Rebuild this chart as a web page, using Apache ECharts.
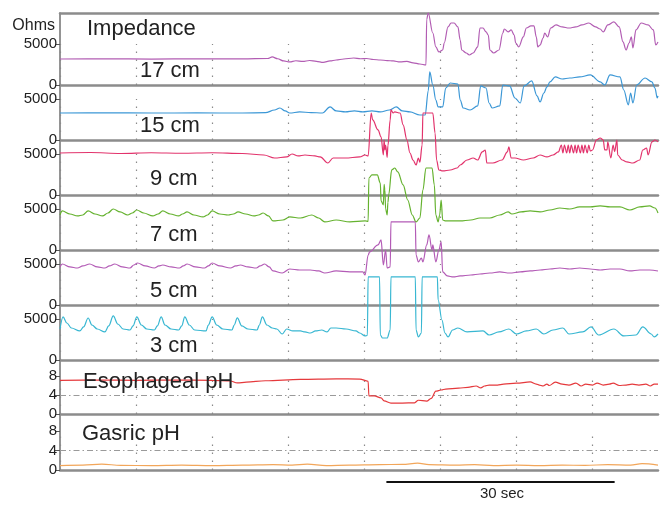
<!DOCTYPE html>
<html><head><meta charset="utf-8">
<script src="https://cdn.jsdelivr.net/npm/echarts@6/dist/echarts.min.js"></script>
<style>html,body{margin:0;padding:0;background:#fff}#c{width:672px;height:511px}</style>
</head><body><div id="c"></div>
<script>
// ---- data (time in seconds, impedance in ohms, pH units) ----
const channelLabels = ['17 cm','15 cm','9 cm','7 cm','5 cm','3 cm'];
const phLabels = ['Esophageal pH','Gasric pH'];
const impedanceTicks = [0,5000];
const phTicks = [0,4,8];
const gridTimes = [0,10,20,30,40,50,60,70];
const phThreshold = 4;
const scaleBarStart = 42.9;
const scaleBarSeconds = 30;
const scaleBarLabel = '30 sec';

const imp17 = [[0,3170],[6,3190],[12,3160],[18,3200],[24,3180],[27.3,3230],[27.9,3420],[28.6,3200],[29.4,2930],[30.2,2810],[31.0,2960],[31.9,2870],[32.8,2990],[33.7,2890],[34.6,2760],[35.5,2930],[36.3,3050],[37.3,3170],[38.6,3290],[39.5,3200],[40.3,3230],[41.2,3110],[42.1,3050],[43.0,2980],[43.8,2930],[44.7,2810],[45.6,2870],[46.4,2700],[47.3,2560],[48.1,2440],[48.2,8000],[48.4,8780],[49.0,6340],[49.4,4640],[49.8,4030],[50.3,4270],[50.5,5120],[51.0,7080],[51.4,7560],[51.8,7560],[52.3,7080],[52.6,5490],[52.8,4270],[53.4,3900],[53.8,3660],[54.3,3900],[54.9,4640],[55.2,6950],[55.6,6950],[56.0,6470],[56.3,6100],[56.5,4270],[57.0,3900],[57.7,4270],[58.2,6340],[58.4,6830],[58.9,6470],[59.3,6710],[59.7,6100],[59.9,5120],[60.3,4640],[60.9,5860],[61.3,6950],[61.9,7200],[62.3,7200],[62.6,5860],[62.8,4640],[63.1,4880],[63.5,5730],[63.7,6340],[64.1,5860],[64.5,6950],[65.2,7320],[66.0,7080],[66.9,6950],[67.8,7080],[68.6,7320],[69.5,7560],[70.4,7080],[71.0,6830],[71.4,6470],[72.0,7320],[72.8,7690],[73.5,7080],[74.0,5250],[74.4,4270],[74.8,5120],[75.1,5860],[75.3,4510],[75.7,6710],[76.4,7560],[77.3,7320],[78.0,6710],[78.3,4880],[78.6,5250]];

const imp15 = [[0,3290],[6,3320],[12,3290],[18,3300],[24,3290],[27.0,3330],[28.2,3660],[28.9,3900],[29.6,3540],[30.2,3290],[31.5,3420],[33.0,3350],[34.5,3290],[35.5,4030],[36.3,3540],[37.5,3420],[38.7,3540],[39.8,3420],[41.0,3540],[42.1,3420],[43.3,3660],[44.2,4030],[45.0,3540],[46.0,3420],[47.3,3050],[48.0,3050],[48.4,6000],[48.6,8300],[49.0,6710],[49.4,4880],[49.7,4030],[50.3,4030],[50.7,6340],[51.3,6950],[52.3,6830],[52.6,4880],[53.0,3900],[53.9,3660],[54.9,4150],[55.3,6590],[56.0,6340],[56.4,4510],[56.8,3900],[57.8,4150],[58.2,6710],[59.1,6590],[59.8,5120],[60.5,4510],[61.0,6590],[62.0,7200],[62.7,5370],[63.1,4640],[63.6,5730],[64.0,6470],[64.4,7080],[65.1,7690],[66.0,7440],[67.0,7560],[68.3,7690],[69.7,7930],[71.0,7080],[71.6,6710],[72.3,7930],[73.6,7690],[74.1,6100],[74.7,4270],[75.0,5730],[75.3,4510],[75.8,6710],[76.9,7560],[77.8,7080],[78.2,6340],[78.5,5120],[78.6,5370]];

const imp9 = [[0,5120],[4,5180],[8,5060],[12,5150],[16,5090],[20,5150],[24,5060],[26.8,4880],[28.2,4510],[29.8,4640],[30.5,5000],[31.3,4760],[32.2,4880],[33.5,4760],[34.2,4640],[35.2,3900],[35.9,4510],[37.5,4510],[39.4,4640],[40.1,4880],[40.5,4760],[40.9,10000],[41.1,9150],[41.8,7930],[42.2,7080],[42.5,4880],[42.6,6700],[42.7,5500],[42.8,6100],[43.0,4600],[43.1,6000],[43.4,9150],[43.5,10370],[43.8,10000],[44.0,10130],[44.7,10000],[45.1,8540],[45.6,6710],[46.0,5120],[46.4,4270],[46.8,3660],[47.1,4510],[47.3,4000],[47.6,6100],[47.7,10000],[49.0,10000],[49.3,7560],[49.5,4270],[49.8,3050],[50.3,2930],[51.3,3050],[52.2,3290],[52.6,3660],[53.5,4270],[54.3,4510],[54.9,4270],[55.5,5250],[55.9,5490],[56.1,3900],[56.9,3900],[58.1,4270],[58.8,5250],[59.0,5860],[59.3,4510],[59.8,4510],[60.9,4270],[62.2,4510],[63.1,4880],[64.0,4640],[64.8,4880],[65.5,5250],[65.9,6100],[66.1,5120],[66.3,6100],[66.6,5120],[66.8,6100],[67.0,5120],[67.2,6100],[67.5,5120],[67.7,6100],[67.9,5120],[68.1,6100],[68.4,5120],[68.6,6100],[68.8,5120],[69.0,6100],[69.3,5120],[69.5,6100],[69.7,5370],[70.0,5490],[70.5,6710],[71.0,6950],[71.4,6710],[71.6,5500],[71.9,5490],[72.0,6470],[72.4,4510],[72.7,6100],[72.9,5300],[73.2,6710],[73.3,4880],[73.9,4270],[74.5,4030],[75.3,3900],[76.2,4270],[76.6,5490],[77.1,5730],[77.3,4880],[77.8,6470],[78.2,6710],[78.6,6470]];

const imp7 = [[0,4270],[0.3,4760],[1.3,4390],[2.3,4150],[3.0,4270],[3.7,4760],[4.6,4390],[5.6,4150],[6.3,4510],[7.0,5000],[7.9,4640],[8.9,4270],[9.5,4510],[10.1,4880],[11.0,4510],[12.2,4150],[12.9,4390],[13.5,4760],[14.5,4390],[15.6,4150],[16.1,4390],[16.7,4640],[17.6,4270],[18.8,4030],[19.4,4270],[20.0,4760],[21.0,4390],[22.1,4270],[22.8,4390],[23.4,4640],[24.4,4390],[25.5,4150],[26.1,4270],[26.7,4510],[27.4,4150],[28.0,3540],[29.3,3660],[30.2,4030],[31.6,3900],[33.1,4270],[34.0,3900],[34.8,3420],[36.3,3660],[38.1,3420],[40.1,3540],[40.5,3500],[40.6,8780],[41.0,9150],[41.7,9150],[42.1,8170],[42.2,6000],[42.5,5490],[42.6,8000],[42.7,7320],[42.8,5000],[43.0,4270],[43.1,5800],[43.2,6710],[43.6,9760],[44.0,10000],[44.4,9520],[45.1,7930],[45.7,6100],[46.3,4270],[46.8,3420],[47.3,3900],[47.7,7320],[48.1,10000],[48.9,10000],[49.2,7930],[49.4,4270],[49.7,3420],[49.9,4270],[50.1,6100],[50.3,3660],[50.7,3540],[52.6,3540],[54.0,3660],[55.2,3900],[56.5,3900],[57.8,4270],[58.9,4640],[59.4,4390],[60.6,4640],[61.8,4760],[63.1,4640],[64.4,4880],[65.7,5120],[67.0,5000],[68.3,5250],[69.7,5250],[71.0,5370],[72.3,5250],[73.6,5250],[74.9,4880],[76.2,5250],[77.5,5370],[78.2,5120],[78.6,4510]];

const imp5 = [[0,4640],[0.3,5000],[1.3,4640],[2.3,4510],[3.0,4760],[3.9,5000],[4.9,4640],[5.9,4510],[6.5,4760],[7.2,5000],[8.2,4640],[9.2,4510],[9.7,4880],[10.2,5120],[11.2,4760],[12.4,4510],[13.0,4760],[13.5,4880],[14.6,4640],[15.7,4510],[16.2,4760],[16.7,5000],[17.8,4640],[19.0,4510],[19.5,4760],[20.0,5120],[21.0,4760],[22.4,4510],[23.1,4760],[23.7,4880],[24.7,4640],[25.8,4510],[26.3,4760],[26.9,5000],[27.5,4640],[28.0,4150],[29.2,3900],[30.2,4390],[31.5,4270],[32.9,4270],[34.0,4150],[34.8,3900],[36.3,4150],[38.1,4030],[39.8,4030],[40.1,3660],[40.5,6100],[40.7,6470],[41.8,7320],[42.2,7930],[42.5,4880],[42.8,6710],[43.0,4510],[43.4,4640],[43.5,10130],[46.7,10130],[46.8,6100],[47.1,5250],[47.5,5730],[47.7,5250],[48.2,7320],[48.5,8540],[48.9,6710],[49.0,7320],[49.4,5250],[49.8,6710],[50.1,7690],[50.3,4030],[50.9,3540],[51.7,3420],[52.6,3540],[54.0,3660],[55.2,3780],[56.5,3900],[57.8,4030],[59.1,3900],[60.5,4030],[61.8,4150],[63.1,4270],[64.4,4390],[65.7,4510],[67.0,4390],[68.3,4510],[69.7,4390],[71.0,4270],[72.3,4390],[73.6,4390],[74.9,4150],[76.2,4270],[77.5,4270],[78.6,4150]];

const imp3 = [[0,3780],[0.4,5250],[0.9,4510],[1.5,3900],[2.6,3540],[3.1,4030],[3.7,5120],[4.2,4270],[4.9,3780],[5.9,3420],[6.4,4150],[7.0,5370],[7.6,4390],[8.3,3780],[9.2,3660],[9.6,4150],[10.1,5250],[10.7,4270],[11.4,3780],[12.4,3660],[12.8,4150],[13.3,5250],[13.8,4270],[14.6,3780],[15.6,3660],[16.0,4150],[16.4,5250],[17.0,4270],[17.7,3660],[19.2,3540],[19.5,4270],[20.0,5250],[20.6,4270],[21.4,3780],[22.6,3660],[22.9,4270],[23.3,5130],[23.9,4150],[24.7,3780],[25.9,3660],[26.2,4270],[26.6,5250],[27.2,4270],[27.9,3900],[28.5,3780],[29.2,3170],[29.8,3780],[30.6,3540],[31.6,3540],[32.2,3420],[32.9,3290],[33.6,3540],[34.4,3660],[35.1,3420],[35.6,3900],[36.3,3900],[37.6,3780],[38.9,3540],[39.4,3290],[40.1,2930],[40.4,3000],[40.5,10130],[42.0,10130],[42.1,3050],[42.4,2680],[43.0,2680],[43.4,3660],[43.5,10130],[46.7,10130],[46.8,3660],[47.1,2810],[47.5,3290],[47.6,10130],[49.6,10130],[49.7,7320],[50.2,4880],[50.6,3290],[51.0,2810],[51.6,3660],[52.3,3900],[53.5,3420],[55.6,3540],[56.4,3050],[57.7,3420],[59.0,3780],[60.0,3170],[61.3,3540],[62.6,3780],[63.6,3170],[64.8,3660],[66.1,3900],[66.9,3170],[68.7,3420],[69.8,4030],[70.8,3050],[72.8,3780],[74.1,2930],[75.7,3050],[76.6,4030],[77.7,3170],[78.1,2810],[78.6,3170]];

const esoPH = [[0,7.1],[5,7.15],[10,7.1],[15,7.15],[20,7.1],[22.4,6.95],[23.3,6.55],[24.5,6.7],[27.0,7.0],[31.6,7.3],[36.3,7.4],[39.4,7.35],[40.5,6.9],[40.6,3.8],[41.3,3.8],[42.2,3.4],[42.6,2.75],[43.5,2.3],[45.0,2.3],[46.6,2.35],[47.1,2.9],[48.2,2.7],[48.8,3.3],[49.4,4.8],[50.1,5.05],[50.7,5.25],[52.4,5.45],[53.6,5.6],[54.7,5.9],[55.3,5.5],[55.8,5.9],[56.4,6.1],[57.5,6.1],[58.3,6.3],[60.0,6.5],[61.8,6.75],[62.6,6.3],[63.0,6.1],[63.5,5.9],[64.0,6.3],[64.3,6.0],[65.1,6.7],[66.0,6.3],[66.9,6.1],[67.8,6.5],[68.5,5.9],[69.1,6.3],[70.0,6.1],[70.6,6.5],[71.4,6.1],[72.2,6.3],[72.7,6.5],[73.5,6.0],[74.4,6.1],[75.2,6.3],[76.1,6.1],[77.0,6.3],[77.6,5.9],[78.1,6.3],[78.6,6.3]];

const gasPH = [[0,0.9],[3,1.0],[5.5,1.2],[8,0.95],[12,0.9],[16,1.0],[20,0.9],[24,1.0],[28,1.1],[30.5,1.0],[32.5,1.2],[35,0.9],[38,1.0],[42,1.1],[45,1.15],[47,1.4],[48.5,1.1],[52,1.0],[54.5,1.1],[57,0.9],[60,1.0],[63,0.9],[66,1.0],[69,0.95],[72,1.1],[75,1.0],[76.5,1.3],[78.6,1.0]];

// ---- layout / styling ----
const L = 60, W = 598, XMAX = 78.6;
const FONT = 'Liberation Sans, Arial, sans-serif';
const panels = [
  {top:13,  h:72, max:8780,  ticks:impedanceTicks},
  {top:85,  h:55, max:6707,  ticks:impedanceTicks},
  {top:140, h:55, max:6707,  ticks:impedanceTicks},
  {top:195, h:55, max:6707,  ticks:impedanceTicks},
  {top:250, h:55, max:6707,  ticks:impedanceTicks},
  {top:305, h:55, max:6707,  ticks:impedanceTicks},
  {top:360, h:54, max:11.37, ticks:phTicks},
  {top:414, h:56, max:11.49, ticks:phTicks}
];
const traces = [imp17, imp15, imp9, imp7, imp5, imp3, esoPH, gasPH];
const colors = ['#b25db3','#3b97d6','#e2336c','#65b22f','#b35bb6','#38b7d2','#e5393c','#f2a65a'];

const grid = panels.map(p => ({left:L, width:W, top:p.top, height:p.h}));
grid.push({left:L, width:W, top:476, height:12});

const xAxis = panels.map((p,i) => ({
  type:'value', gridIndex:i, min:0, max:XMAX,
  axisLine:{show:true, onZero:false, lineStyle:{color:'#8c8c8c', width:2.5}},
  axisTick:{show:false}, axisLabel:{show:false}, splitLine:{show:false}
}));
xAxis.push({type:'value', gridIndex:0, min:0, max:XMAX, position:'top',
  axisLine:{show:true, onZero:false, lineStyle:{color:'#8c8c8c', width:2.5}},
  axisTick:{show:false}, axisLabel:{show:false}, splitLine:{show:false}});
xAxis.push({type:'value', gridIndex:8, min:0, max:XMAX, show:false});

const yAxis = panels.map((p,i) => ({
  type:'value', gridIndex:i, min:0, max:p.max,
  axisLine:{show:true, onZero:false, lineStyle:{color:'#707070', width:1.5}},
  axisTick:{show:true, length:5, customValues:p.ticks, lineStyle:{color:'#555', width:1}},
  axisLabel:{show:true, customValues:p.ticks, fontSize:15, color:'#222', margin:3, fontFamily:FONT,
    formatter: v => String(v)},
  splitLine:{show:false}
}));
yAxis.push({type:'value', gridIndex:8, min:0, max:1, show:false});

const series = traces.map((d,i) => {
  const isPH = i >= 6;
  const topVal = isPH ? phTicks[phTicks.length-1] : impedanceTicks[impedanceTicks.length-1];
  const mlData = gridTimes.map(t => [{coord:[t,0]},{coord:[t,topVal]}]);
  if (isPH) mlData.push({yAxis:phThreshold, lineStyle:{type:[6,3,1.5,3], color:'#9a9a9a', width:1}});
  return {
    type:'line', xAxisIndex:i, yAxisIndex:i, data:d,
    showSymbol:false, symbol:'none', clip:false, animation:false,
    smooth:0.35, smoothMonotone:'x',
    lineStyle:{color:colors[i], width:1.2}, itemStyle:{color:colors[i]},
    z: 3,
    markLine:{silent:true, symbol:['none','none'], animation:false, label:{show:false},
      lineStyle:{color:'#8a8a8a', type:[1.5,6.5], width:1.2}, data:mlData, z:1}
  };
});
series.push({type:'line', xAxisIndex:9, yAxisIndex:8,
  data:[[scaleBarStart,0.5],[scaleBarStart+scaleBarSeconds,0.5]],
  symbol:'none', showSymbol:false, animation:false, lineStyle:{color:'#111', width:2}});

const labelPos = [[140,71],[140,126],[150,179],[150,235],[150,291],[150,345.5]];
const phPos = [[83,382],[82,434]];
const txt = (x,y,s,size,align) => ({type:'text', x, y, z:100,
  style:{text:s, fill:'#222', font:size+'px '+FONT, textAlign:align||'left', textVerticalAlign:'middle', align:align||'left', verticalAlign:'middle'}});
const graphic = [
  txt(55,26,'Ohms',16,'right'),
  txt(87,29,'Impedance',22)
];
channelLabels.forEach((s,i)=>graphic.push(txt(labelPos[i][0],labelPos[i][1],s,22)));
phLabels.forEach((s,i)=>graphic.push(txt(phPos[i][0],phPos[i][1],s,22)));
graphic.push(txt(502,493.5,scaleBarLabel,15,'center'));

const chart = echarts.init(document.getElementById('c'));
chart.setOption({animation:false, backgroundColor:'#fff', grid, xAxis, yAxis, series, graphic});
</script></body></html>
